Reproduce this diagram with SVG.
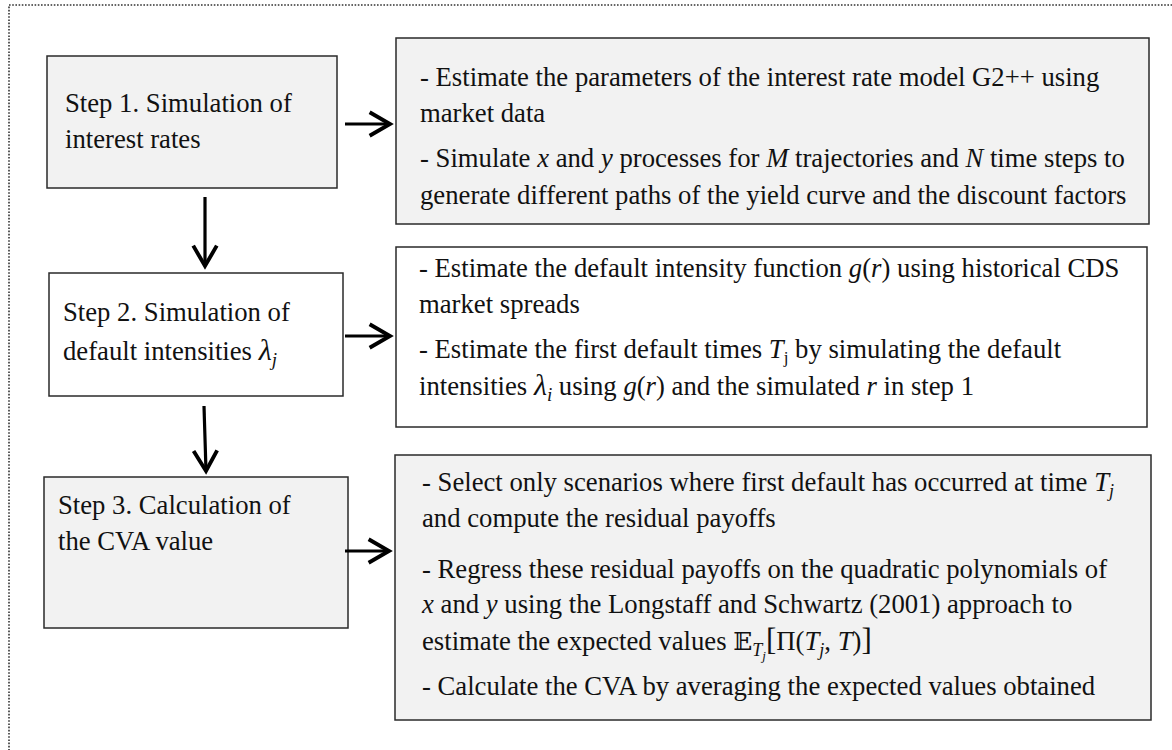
<svg xmlns="http://www.w3.org/2000/svg" width="1172" height="750" viewBox="0 0 1172 750">
<defs>
<style>
.t{font-family:"Liberation Serif","Times New Roman",serif;font-size:26.7px;fill:#111}
.i{font-style:italic}
.cm{font-family:"DejaVu Serif","Liberation Serif",serif}
.box{stroke:#2a2a2a;stroke-width:1.5}
.g{fill:#f2f2f2}
.w{fill:#ffffff}
.arr{stroke:#000;stroke-width:3.2;fill:none;marker-end:url(#ah)}
.frame{fill:none;stroke:#333;stroke-width:1.6;stroke-dasharray:1.6 1.6}
</style>
<marker id="ah" markerUnits="userSpaceOnUse" markerWidth="30" markerHeight="30" refX="0" refY="0" viewBox="-24 -14 28 28" orient="auto" overflow="visible">
<path d="M-19,-11 L0,0 L-19,11" fill="none" stroke="#000" stroke-width="3.6" stroke-linejoin="miter"/>
</marker>
</defs>
<rect class="frame" x="9" y="5" width="1200" height="800"/>

<g id="step1">
<rect class="box g" x="47" y="56" width="290" height="132"/>
<text class="t" x="65" y="112">Step 1. Simulation of</text>
<text class="t" x="65" y="148">interest rates</text>
</g>

<g id="desc1">
<rect class="box g" x="396" y="38" width="753" height="186"/>
<text class="t" x="420" y="86">- Estimate the parameters of the interest rate model G2++ using</text>
<text class="t" x="420" y="122">market data</text>
<text class="t" x="420" y="167">- Simulate <tspan class="i">x</tspan> and <tspan class="i">y</tspan> processes for <tspan class="i">M</tspan> trajectories and <tspan class="i">N</tspan> time steps to</text>
<text class="t" x="420" y="204">generate different paths of the yield curve and the discount factors</text>
</g>

<g id="step2">
<rect class="box w" x="49" y="273" width="294" height="123"/>
<text class="t" x="63" y="321">Step 2. Simulation of</text>
<text class="t" x="63" y="360">default intensities <tspan class="i" font-size="30">λ</tspan><tspan class="i" font-size="19" dy="6">j</tspan></text>
</g>

<g id="desc2">
<rect class="box w" x="396" y="247" width="751" height="180"/>
<text class="t" x="419" y="277">- Estimate the default intensity function <tspan class="i">g</tspan>(<tspan class="i">r</tspan>) using historical CDS</text>
<text class="t" x="419" y="313">market spreads</text>
<text class="t" x="419" y="358">- Estimate the first default times <tspan class="i">T</tspan><tspan font-size="17" dy="5">j</tspan><tspan dy="-5"> by simulating the default</tspan></text>
<text class="t" x="419" y="395">intensities <tspan class="i" font-size="30">λ</tspan><tspan class="i" font-size="19" dy="6">i</tspan><tspan dy="-6">  using </tspan><tspan class="i">g</tspan>(<tspan class="i">r</tspan>) and the simulated <tspan class="i">r</tspan> in step 1</text>
</g>

<g id="step3">
<rect class="box g" x="44" y="477" width="304" height="151"/>
<text class="t" x="58" y="514">Step 3. Calculation of</text>
<text class="t" x="58" y="550">the CVA value</text>
</g>

<g id="desc3">
<rect class="box g" x="395" y="455" width="756" height="265"/>
<text class="t" x="422" y="491">- Select only scenarios where first default has occurred at time <tspan class="i">T</tspan><tspan class="i" font-size="18" dy="6">j</tspan></text>
<text class="t" x="422" y="527">and compute the residual payoffs</text>
<text class="t" x="422" y="578">- Regress these residual payoffs on the quadratic polynomials of</text>
<text class="t" x="422" y="613"><tspan class="i">x</tspan> and <tspan class="i">y</tspan> using the Longstaff and Schwartz (2001) approach to</text>
<text class="t" x="422" y="650">estimate the expected values <tspan class="cm" font-size="25">𝔼</tspan><tspan class="i" font-size="18" dy="6">T</tspan><tspan class="i" font-size="13" dy="4">j</tspan><tspan dy="-10" font-size="31">[</tspan>Π(<tspan class="i">T</tspan><tspan class="i" font-size="18" dy="6">j</tspan><tspan dy="-6">, </tspan><tspan class="i">T</tspan>)<tspan font-size="31">]</tspan></text>
<text class="t" x="422" y="695">- Calculate the CVA by averaging the expected values obtained</text>
</g>

<g id="connectors">
<path class="arr" d="M345,124 H390"/>
<path class="arr" d="M345,336 H390"/>
<path class="arr" d="M345,551 H389"/>
<path class="arr" d="M205,197 V266"/>
<path class="arr" d="M204,406 L206,471"/>
</g>
</svg>
